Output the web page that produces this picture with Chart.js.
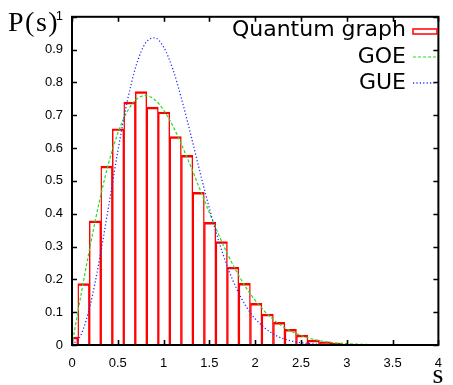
<!DOCTYPE html>
<html>
<head>
<meta charset="utf-8">
<script src="https://cdn.jsdelivr.net/npm/chart.js@4.4.1/dist/chart.umd.min.js"></script>
<style>
html,body{margin:0;padding:0;background:#fff;}
#wrap{width:453px;height:385px;position:relative;}
</style>
</head>
<body>
<div id="wrap"><canvas id="c" width="453" height="385"></canvas></div>
<script>
// ---- data ----
const seriesNames = ['Quantum graph', 'GOE', 'GUE'];
const binCenters = [0, 0.126, 0.251, 0.377, 0.503, 0.628, 0.754, 0.880, 1.005, 1.131, 1.257, 1.382, 1.508,
  1.634, 1.759, 1.885, 2.011, 2.136, 2.262, 2.388, 2.513, 2.639, 2.765, 2.890, 3.016, 3.142];
const histValues = [0.024, 0.187, 0.378, 0.545, 0.659, 0.740, 0.772, 0.725, 0.710, 0.635, 0.578, 0.465, 0.374,
  0.315, 0.237, 0.188, 0.127, 0.094, 0.069, 0.048, 0.030, 0.015, 0.010, 0.006, 0.003, 0.002];
const curveS = [0, 0.1, 0.2, 0.3, 0.4, 0.5, 0.6, 0.7, 0.8, 0.9, 1.0, 1.1, 1.2, 1.3, 1.4, 1.5, 1.6, 1.7, 1.8, 1.9,
  2.0, 2.2, 2.4, 2.6, 2.8, 3.0, 3.5, 4.0];
const goeValues = [0, 0.156, 0.304, 0.439, 0.554, 0.645, 0.710, 0.748, 0.760, 0.748, 0.716, 0.668, 0.608, 0.542,
  0.472, 0.403, 0.337, 0.276, 0.222, 0.175, 0.136, 0.077, 0.041, 0.020, 0.009, 0.004, 0.0004, 0];
const gueValues = [0, 0.032, 0.123, 0.260, 0.423, 0.590, 0.738, 0.851, 0.919, 0.936, 0.908, 0.841, 0.746, 0.637,
  0.524, 0.416, 0.319, 0.236, 0.170, 0.118, 0.080, 0.033, 0.012, 0.004, 0.001, 0.0003, 0, 0];
const xTickValues = [0, 0.5, 1, 1.5, 2, 2.5, 3, 3.5, 4];
const yTickValues = [0, 0.1, 0.2, 0.3, 0.4, 0.5, 0.6, 0.7, 0.8, 0.9, 1];
const yAxisTitle = 'P(s)';
const xAxisTitle = 's';

const pts = (xs, ys) => xs.map((x, i) => ({x: x, y: ys[i]}));

const fmt = v => String(Number(Number(v).toFixed(2)));

const decor = {
  id: 'decor',
  afterDatasetsDraw(chart) {
    const {ctx, chartArea: a, scales: {x, y}} = chart;
    ctx.save();
    // frame
    ctx.strokeStyle = '#000';
    ctx.lineWidth = 2;
    ctx.strokeRect(a.left, a.top, a.right - a.left, a.bottom - a.top);
    // inward mirror ticks
    ctx.lineWidth = 1.6;
    ctx.beginPath();
    xTickValues.forEach(v => {
      const px = Math.round(x.getPixelForValue(v)) + 0.5;
      ctx.moveTo(px, a.bottom); ctx.lineTo(px, a.bottom - 5);
      ctx.moveTo(px, a.top); ctx.lineTo(px, a.top + 5);
    });
    yTickValues.forEach(v => {
      const py = Math.round(y.getPixelForValue(v)) + 0.5;
      ctx.moveTo(a.left, py); ctx.lineTo(a.left + 5, py);
      ctx.moveTo(a.right, py); ctx.lineTo(a.right - 5, py);
    });
    ctx.stroke();
    // axis titles
    ctx.fillStyle = '#000';
    ctx.font = '28px "Liberation Serif", serif';
    ctx.textAlign = 'left';
    ctx.textBaseline = 'alphabetic';
    try { ctx.letterSpacing = '1.5px'; } catch (e) {}
    ctx.fillText(yAxisTitle, 8, 31);
    try { ctx.letterSpacing = '0px'; } catch (e) {}
    ctx.textAlign = 'center';
    ctx.fillText(xAxisTitle, 438, 383);
    // legend
    const ds = chart.data.datasets;
    const textRight = 406, sx0 = 413, sx1 = 437;
    const rows = [28, 54.5, 80.5];
    ctx.font = '22px "DejaVu Sans", sans-serif';
    ctx.textAlign = 'right';
    ds.forEach((d, i) => {
      const ry = rows[i];
      ctx.fillStyle = '#000';
      ctx.fillText(d.label, textRight, ry + 8);
      ctx.strokeStyle = d.borderColor;
      if (d.type === 'bar') {
        ctx.lineWidth = 1.5;
        ctx.setLineDash([]);
        ctx.strokeRect(sx0, ry + 1, sx1 - sx0, 5);
      } else {
        ctx.lineWidth = d.borderWidth;
        ctx.setLineDash(d.borderDash);
        ctx.beginPath();
        ctx.moveTo(sx0, ry + 2.5); ctx.lineTo(sx1, ry + 2.5);
        ctx.stroke();
      }
    });
    ctx.restore();
  }
};

new Chart(document.getElementById('c'), {
  data: {
    datasets: [
      {
        type: 'bar', label: seriesNames[0], data: pts(binCenters, histValues),
        backgroundColor: 'rgba(0,0,0,0)', borderColor: '#ff0000',
        borderWidth: {top: 1.8, left: 0.8, right: 0.8, bottom: 0},
        barPercentage: 1, categoryPercentage: 1, order: 3
      },
      {
        type: 'line', label: seriesNames[1], data: pts(curveS, goeValues),
        borderColor: '#22dd22', borderWidth: 1.2, borderDash: [3, 2], pointRadius: 0,
        cubicInterpolationMode: 'monotone', fill: false, order: 2
      },
      {
        type: 'line', label: seriesNames[2], data: pts(curveS, gueValues),
        borderColor: '#2a2aff', borderWidth: 1.3, borderDash: [1.2, 2.2], pointRadius: 0,
        cubicInterpolationMode: 'monotone', fill: false, order: 1
      }
    ]
  },
  options: {
    responsive: false,
    animation: false,
    devicePixelRatio: 1,
    layout: {padding: {top: 15, right: 10, left: 0, bottom: 0}},
    plugins: {legend: {display: false}, tooltip: {enabled: false}},
    scales: {
      x: {
        type: 'linear', min: 0, max: 4, offset: false,
        grid: {display: false, drawTicks: false}, border: {display: false},
        afterBuildTicks: s => { s.ticks = xTickValues.map(v => ({value: v})); },
        ticks: {color: '#000', font: {family: '"Liberation Sans", Arial, sans-serif', size: 13}, padding: 11,
          maxRotation: 0, autoSkip: false, callback: v => fmt(v)},
        afterFit: s => { s.height = 40; }
      },
      y: {
        type: 'linear', min: 0, max: 1,
        grid: {display: false, drawTicks: false}, border: {display: false},
        afterBuildTicks: s => { s.ticks = yTickValues.map(v => ({value: v})); },
        ticks: {color: '#000', font: {family: '"Liberation Sans", Arial, sans-serif', size: 13}, padding: 9,
          autoSkip: false, callback: v => fmt(v)},
        afterFit: s => { s.width = 72; }
      }
    }
  },
  plugins: [decor]
});
</script>
</body>
</html>
